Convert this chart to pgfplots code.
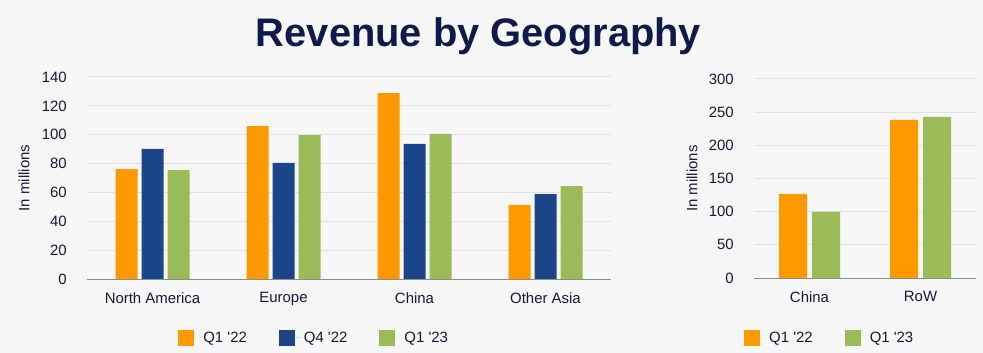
\documentclass[border=0pt]{standalone}
\usepackage{pgfplots}
\pgfplotsset{compat=1.18}
\usepackage{fontspec}
\setmainfont{Liberation Sans}
\definecolor{bg}{HTML}{F7F7F7}
\definecolor{navy}{HTML}{0E1A4C}
\definecolor{txt}{HTML}{151A38}
\definecolor{cOr}{HTML}{FF9900}
\definecolor{cBl}{HTML}{1B4589}
\definecolor{cGr}{HTML}{9BBB59}
\definecolor{gridc}{HTML}{E2E2E2}
\definecolor{axl}{HTML}{8C8C8C}
\pgfplotsset{
 common/.style={
  scale only axis, ybar, ymin=0, enlarge x limits=false,
  axis x line*=bottom, axis y line*=left,
  y axis line style={draw=none},
  x axis line style={draw=axl, line width=1bp, -},
  major tick length=0pt, tick style={draw=none},
  ymajorgrids, grid style={draw=gridc, line width=1bp},
  /pgf/number format/assume math mode=true,
  tick label style={font=\fontsize{15}{18}\selectfont, text=txt},
  yticklabel style={anchor=east, inner sep=0pt, xshift=-20bp},
  xticklabel style={anchor=north, inner sep=0pt, yshift=-13bp},
  legend style={draw=none, fill=none, inner sep=0pt, font=\fontsize{15}{18}\selectfont, text=txt, legend columns=-1,
    /tikz/every even column/.append style={column sep=30bp}},
 },
 sq/.style={draw=none, legend image code/.code={\fill[##1] (0bp,-8bp) rectangle (16bp,8bp); \path (0bp,0bp) -- (23bp,0bp);}},
}
\begin{document}
\begin{tikzpicture}
\fill[bg] (0,0) rectangle (983bp,353bp);
\node[anchor=base, font=\fontsize{40}{44}\selectfont\bfseries, text=navy] at (478.5bp,306bp) {Revenue by Geography};
\begin{axis}[common, at={(87bp,74bp)}, anchor=south west, width=524bp, height=202bp,
  xmin=-0.5, xmax=3.5, ymax=140, ytick={0,20,...,140},
  xtick={0,1,2,3}, xticklabels={North America,Europe,China,Other Asia},
  bar width=22bp, ybar=4bp,
  ylabel={In millions},
  every axis y label/.style={at={(axis description cs:-0.12,0.5)}, rotate=90, anchor=center, font=\fontsize{15}{18}\selectfont, text=txt},
  legend style={at={(axis description cs:0.174,-0.292)}, anchor=west}]
\addplot[sq, fill=cOr] coordinates {(0,76.2) (1,106.0) (2,128.9) (3,51.3)};
\addplot[sq, fill=cBl] coordinates {(0,90.1) (1,80.4) (2,93.6) (3,58.9)};
\addplot[sq, fill=cGr] coordinates {(0,75.5) (1,99.8) (2,100.5) (3,64.4)};
\legend{Q1 \textquotesingle22, Q4 \textquotesingle22, Q1 \textquotesingle23}
\end{axis}
\begin{axis}[common, at={(754bp,75bp)}, anchor=south west, width=222bp, height=199bp,
  xmin=-0.5, xmax=1.5, ymax=300, ytick={0,50,...,300},
  xtick={0,1}, xticklabels={China,RoW},
  bar width=28bp, ybar=5bp,
  ylabel={In millions},
  every axis y label/.style={at={(axis description cs:-0.279,0.5)}, rotate=90, anchor=center, font=\fontsize{15}{18}\selectfont, text=txt},
  legend style={at={(axis description cs:-0.045,-0.302)}, anchor=west}]
\addplot[sq, fill=cOr] coordinates {(0,126.9) (1,238.3)};
\addplot[sq, fill=cGr] coordinates {(0,99.8) (1,242.8)};
\legend{Q1 \textquotesingle22, Q1 \textquotesingle23}
\end{axis}
\pgfresetboundingbox
\useasboundingbox (0,0) rectangle (983bp,353bp);
\end{tikzpicture}
\end{document}
